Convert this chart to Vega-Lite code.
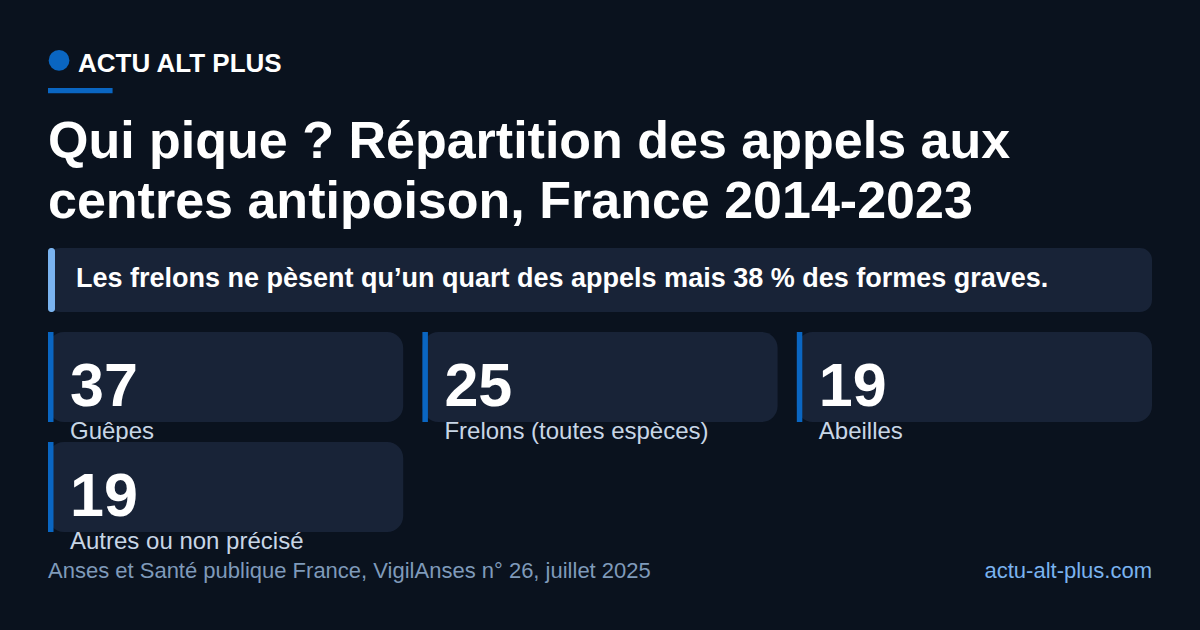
{
  "$schema": "https://vega.github.io/schema/vega-lite/v6.json",
  "background": "#0a121e",
  "padding": {"left": 48, "right": 48, "top": 48, "bottom": 48},
  "bounds": "flush",
  "spacing": 20,
  "config": {
    "font": "Liberation Sans",
    "view": {"stroke": null},
    "axis": {"disable": true}
  },
  "vconcat": [
    {
      "width": 1104,
      "height": 46,
      "data": {"values": [{"texte": "ACTU ALT PLUS"}]},
      "layer": [
        {
          "mark": {"type": "point", "filled": true, "shape": "circle", "size": 430, "color": "#0a66c2", "opacity": 1},
          "encoding": {
            "x": {"datum": 0.01, "type": "quantitative", "scale": {"domain": [0, 1]}},
            "y": {"datum": 0.27, "type": "quantitative", "scale": {"domain": [0, 1], "reverse": true}}
          }
        },
        {
          "mark": {"type": "text", "align": "left", "baseline": "alphabetic", "dx": 19, "dy": 12, "font": "Liberation Sans", "fontSize": 26, "fontWeight": "bold", "color": "#ffffff"},
          "encoding": {
            "x": {"datum": 0.01, "type": "quantitative"},
            "y": {"datum": 0.27, "type": "quantitative"},
            "text": {"field": "texte", "type": "nominal"}
          }
        },
        {
          "mark": {"type": "rect", "color": "#0a66c2"},
          "encoding": {
            "x": {"datum": 0, "type": "quantitative"},
            "x2": {"datum": 0.0585},
            "y": {"datum": 0.87, "type": "quantitative"},
            "y2": {"datum": 0.985}
          }
        }
      ]
    },
    {
      "width": 1104,
      "height": 114,
      "data": {"values": [
        {"ligne": "Qui pique ? Répartition des appels aux"},
        {"ligne": "centres antipoison, France 2014-2023"}
      ]},
      "mark": {"type": "text", "align": "left", "baseline": "alphabetic", "dy": 17, "font": "Liberation Sans", "fontSize": 52, "fontWeight": "bold", "color": "#ffffff"},
      "encoding": {
        "x": {"datum": 0, "type": "quantitative", "scale": {"domain": [0, 1]}},
        "y": {"field": "ligne", "type": "nominal", "sort": null, "scale": {"range": [-3, 117], "paddingInner": 0, "paddingOuter": 0}},
        "text": {"field": "ligne", "type": "nominal"}
      }
    },
    {
      "width": 1104,
      "height": 64,
      "view": {"fill": "#182337", "cornerRadius": 12, "stroke": null},
      "data": {"values": [{"message": "Les frelons ne pèsent qu’un quart des appels mais 38 % des formes graves."}]},
      "layer": [
        {
          "mark": {"type": "rect", "color": "#7ab3ef", "cornerRadius": 3},
          "encoding": {
            "x": {"datum": 0, "type": "quantitative", "scale": {"domain": [0, 1]}},
            "x2": {"datum": 0.00634}
          }
        },
        {
          "mark": {"type": "text", "align": "left", "baseline": "alphabetic", "dx": 28, "dy": 7, "font": "Liberation Sans", "fontSize": 27, "fontWeight": "bold", "color": "#ffffff"},
          "encoding": {
            "x": {"datum": 0, "type": "quantitative"},
            "text": {"field": "message", "type": "nominal"}
          }
        }
      ]
    },
    {
      "width": 1104,
      "height": 90,
      "data": {"values": [
        {"espece": "Guêpes", "valeur": 37},
        {"espece": "Frelons (toutes espèces)", "valeur": 25},
        {"espece": "Abeilles", "valeur": 19}
      ]},
      "layer": [
        {
          "mark": {"type": "rect", "color": "#182337", "cornerRadius": 16},
          "encoding": {
            "x": {"field": "espece", "type": "nominal", "sort": null, "scale": {"type": "band", "paddingInner": 0.0513, "paddingOuter": 0}}
          }
        },
        {
          "mark": {"type": "tick", "orient": "vertical", "color": "#0a66c2", "thickness": 5.5, "size": 90, "xOffset": 2.75, "opacity": 1},
          "encoding": {
            "x": {"field": "espece", "type": "nominal", "sort": null, "bandPosition": 0}
          }
        },
        {
          "mark": {"type": "text", "align": "left", "baseline": "alphabetic", "dx": 22, "dy": 29, "font": "Liberation Sans", "fontSize": 61, "fontWeight": "bold", "color": "#ffffff"},
          "encoding": {
            "x": {"field": "espece", "type": "nominal", "sort": null, "bandPosition": 0},
            "text": {"field": "valeur", "type": "quantitative"}
          }
        },
        {
          "mark": {"type": "text", "align": "left", "baseline": "alphabetic", "dx": 22, "dy": 62, "font": "Liberation Sans", "fontSize": 24, "color": "#c8d6e6"},
          "encoding": {
            "x": {"field": "espece", "type": "nominal", "sort": null, "bandPosition": 0},
            "text": {"field": "espece", "type": "nominal"}
          }
        }
      ]
    },
    {
      "width": 355.2,
      "height": 90,
      "data": {"values": [
        {"espece": "Autres ou non précisé", "valeur": 19}
      ]},
      "layer": [
        {
          "mark": {"type": "rect", "color": "#182337", "cornerRadius": 16},
          "encoding": {
            "x": {"field": "espece", "type": "nominal", "scale": {"type": "band", "paddingInner": 0, "paddingOuter": 0}}
          }
        },
        {
          "mark": {"type": "tick", "orient": "vertical", "color": "#0a66c2", "thickness": 5.5, "size": 90, "xOffset": 2.75, "opacity": 1},
          "encoding": {
            "x": {"field": "espece", "type": "nominal", "bandPosition": 0}
          }
        },
        {
          "mark": {"type": "text", "align": "left", "baseline": "alphabetic", "dx": 22, "dy": 29, "font": "Liberation Sans", "fontSize": 61, "fontWeight": "bold", "color": "#ffffff"},
          "encoding": {
            "x": {"field": "espece", "type": "nominal", "bandPosition": 0},
            "text": {"field": "valeur", "type": "quantitative"}
          }
        },
        {
          "mark": {"type": "text", "align": "left", "baseline": "alphabetic", "dx": 22, "dy": 62, "font": "Liberation Sans", "fontSize": 24, "color": "#c8d6e6"},
          "encoding": {
            "x": {"field": "espece", "type": "nominal", "bandPosition": 0},
            "text": {"field": "espece", "type": "nominal"}
          }
        }
      ]
    },
    {
      "width": 1104,
      "height": 30,
      "data": {"values": [
        {"role": "source", "texte": "Anses et Santé publique France, VigilAnses n° 26, juillet 2025"},
        {"role": "site", "texte": "actu-alt-plus.com"}
      ]},
      "layer": [
        {
          "transform": [{"filter": "datum.role === 'source'"}],
          "mark": {"type": "text", "align": "left", "baseline": "alphabetic", "dy": 11, "font": "Liberation Sans", "fontSize": 22, "color": "#7f9aba"},
          "encoding": {
            "x": {"datum": 0, "type": "quantitative", "scale": {"domain": [0, 1]}},
            "text": {"field": "texte", "type": "nominal"}
          }
        },
        {
          "transform": [{"filter": "datum.role === 'site'"}],
          "mark": {"type": "text", "align": "right", "baseline": "alphabetic", "dy": 11, "font": "Liberation Sans", "fontSize": 22, "color": "#7ab3ef"},
          "encoding": {
            "x": {"datum": 1, "type": "quantitative"},
            "text": {"field": "texte", "type": "nominal"}
          }
        }
      ]
    }
  ]
}
